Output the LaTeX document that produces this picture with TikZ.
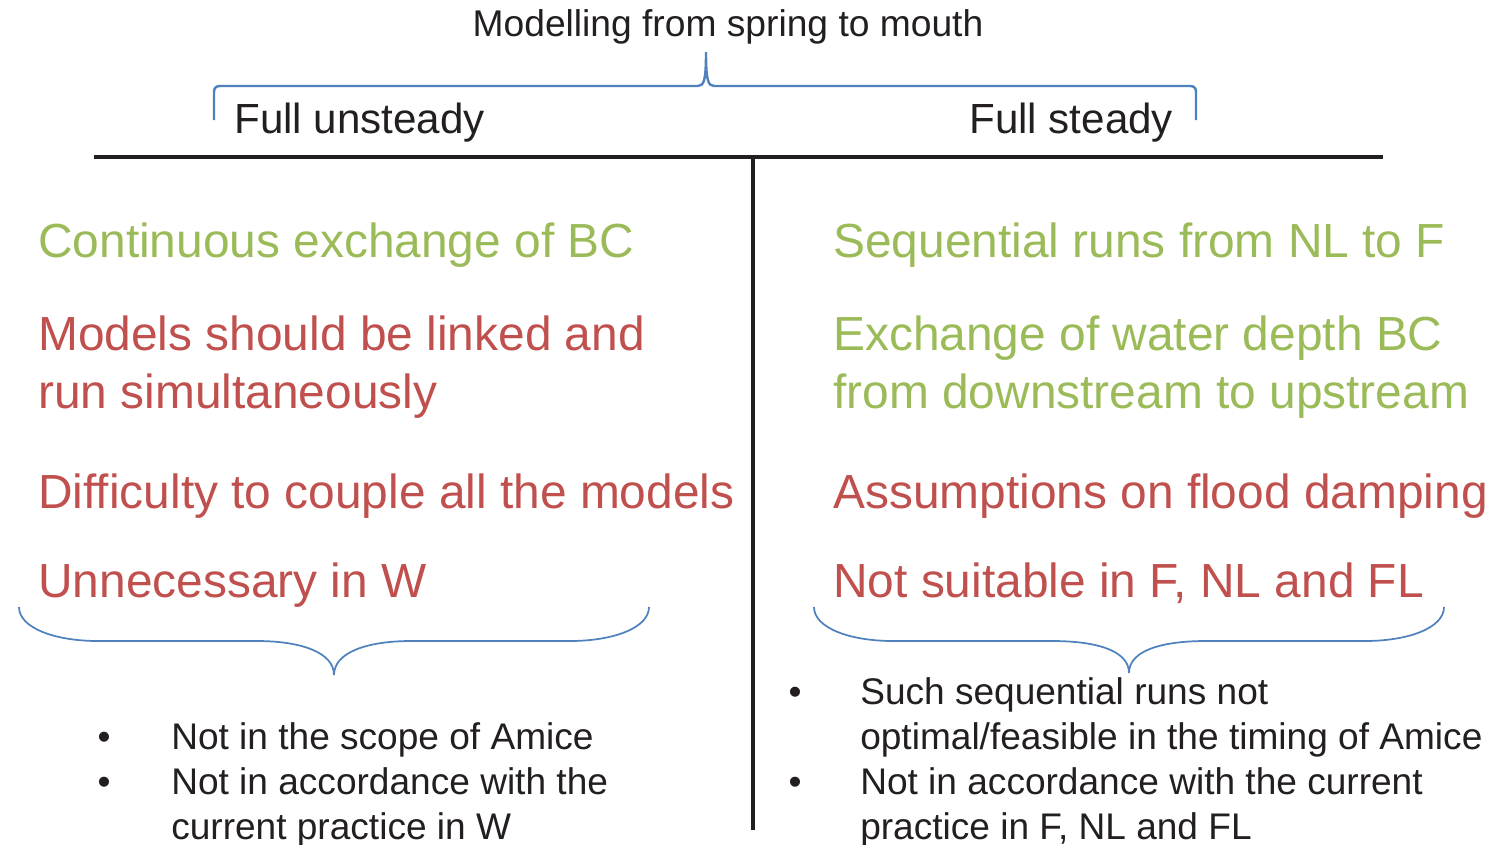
\documentclass[tikz,border=0pt]{standalone}
\usepackage{fontspec}
\setmainfont{Liberation Sans}
\definecolor{okgreen}{RGB}{155,187,89}
\definecolor{badred}{RGB}{192,80,77}
\definecolor{braceblue}{RGB}{79,129,189}
\definecolor{ink}{RGB}{35,31,32}

\begin{document}
\begin{tikzpicture}[x=0.75pt,y=0.75pt,yscale=-1,xscale=1,
    pro/.style={anchor=base west,inner sep=0pt,align=left,text=okgreen,
        font=\fontsize{35.9}{43.5}\selectfont},
    con/.style={pro,text=badred},
    head/.style={anchor=base west,inner sep=0pt,text=ink,font=\fontsize{31.6}{38}\selectfont},
    note/.style={anchor=base west,inner sep=0pt,align=left,text=ink,
        font=\fontsize{27.8}{33.75}\selectfont},
    dot/.style={note,anchor=base},
    brace/.style={draw=braceblue,line width=1.3pt}]

\path[use as bounding box] (0,0) rectangle (1505,844);

% Title and headings
\node (title) [anchor=base,inner sep=0pt,text=ink,font=\fontsize{27.9}{33}\selectfont] at (728,36) {Modelling from spring to mouth};
\node (unsteady) [head] at (234,133) {Full unsteady};
\node (steady) [head] at (969,133) {Full steady};

%Brace: top
\draw [brace,line width=1.8pt] (214,120) -- (214,92) .. controls (214,88) and (216,86) .. (220,86) -- (698,86) .. controls (704,86) and (706,80) .. (706,52) .. controls (706,80) and (708,86) .. (714,86) -- (1190,86) .. controls (1194,86) and (1196,88) .. (1196,92) -- (1196,120) ;

%Straight Lines: table
\draw [ink,line width=3pt] (94,157) -- (1383,157) ;
\draw [ink,line width=2.5pt] (753,157) -- (753,830) ;

% Left column (multi-line nodes sit on their last baseline)
\node (contexch) [pro] at (38,257) {Continuous exchange of BC};
\node (linked) [con] at (38,408) {Models should be linked and\\run simultaneously};
\node (couple) [con] at (38,508) {Difficulty to couple all the models};
\node (unneeded) [con] at (38,597) {Unnecessary in W};

% Right column
\node (seqruns) [pro] at (833,257) {Sequential runs from NL to F};
\node (depthbc) [pro] at (833,408) {Exchange of water depth BC\\from downstream to upstream};
\node (damping) [con] at (833,508) {Assumptions on flood damping};
\node (unsuited) [con] at (833,597) {Not suitable in F, NL and FL};

%Brace: bottom left
\draw [brace] (19,607) .. controls (19,628) and (55,641) .. (98,641) -- (257,641) .. controls (300,641) and (334,652) .. (334,675) .. controls (334,652) and (368,641) .. (411,641) -- (570,641) .. controls (613,641) and (649,628) .. (649,607) ;
%Brace: bottom right
\draw [brace] (814,607) .. controls (814,628) and (850,641) .. (893,641) -- (1052,641) .. controls (1095,641) and (1129,650) .. (1129,673) .. controls (1129,650) and (1163,641) .. (1206,641) -- (1365,641) .. controls (1408,641) and (1444,628) .. (1444,607) ;

% Bullets left
\node (bl1) [dot] at (104,749) {•};
\node (scope) [note] at (171,749) {Not in the scope of Amice};
\node (bl2) [dot] at (104,794) {•};
\node (practw) [note] at (171,839) {Not in accordance with the\\current practice in W};

% Bullets right
\node (br1) [dot] at (795,704) {•};
\node (timing) [note] at (860,749) {Such sequential runs not\\optimal/feasible in the timing of Amice};
\node (br2) [dot] at (795,794) {•};
\node (practf) [note] at (860,839) {Not in accordance with the current\\practice in F, NL and FL};

\end{tikzpicture}
\end{document}
